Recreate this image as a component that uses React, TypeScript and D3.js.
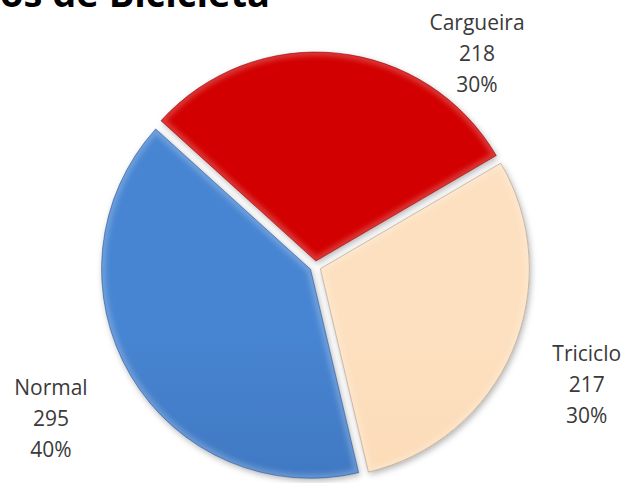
import React from "react";
import * as d3 from "d3";

const categories = ["Normal", "Cargueira", "Triciclo"];
const values = [295, 218, 217];
const percentLabels = ["40%", "30%", "30%"];
const title = "Tipos de Bicicleta";

const W = 628;
const H = 483;
const CX = 315.3;
const CY = 266.5;
const R = 209;
const EXPLODE = 5.5;
const START_DEG = 166.7;

const topColors = ["#4785d2", "#d20000", "#fde0c0"];
const bottomColors = ["#3563a8", "#c60000", "#fad4ab"];
const edgeColors = ["#244f8c", "#8e0000", "#a89078"];

// label placement: angle (deg, clockwise from top) & distance of the middle text line from centre
const labelLayout = [
  { angle: 238.9, dist: 308.7 },
  { angle: 38.2, dist: 261.5 },
  { angle: 114.8, dist: 299 },
];

export default function App() {
  const data = categories.map((c, i) => ({ name: c, value: values[i], pct: percentLabels[i], i }));
  const start = (START_DEG * Math.PI) / 180;
  const pie = d3
    .pie<any>()
    .sort(null)
    .value((d: any) => d.value)
    .startAngle(start)
    .endAngle(start + 2 * Math.PI);
  const arcs = pie(data);
  const arc = d3.arc<any>().innerRadius(0).outerRadius(R);

  return (
    <div style={{ position: "absolute", left: 0, top: 0 }}>
      <svg width={W} height={H} style={{ display: "block", overflow: "hidden" }}>
        <defs>
          <filter id="shadow" x="-20%" y="-20%" width="140%" height="140%">
            <feDropShadow dx="1.5" dy="2.5" stdDeviation="3" floodColor="#000" floodOpacity="0.3" />
          </filter>
          <filter id="blur4">
            <feGaussianBlur stdDeviation="2.5" />
          </filter>
          {data.map((d) => (
            <linearGradient
              key={d.name}
              id={`g${d.i}`}
              gradientUnits="userSpaceOnUse"
              x1={0}
              y1={CY - R}
              x2={0}
              y2={CY + R}
            >
              <stop offset="0%" stopColor={topColors[d.i]} />
              <stop offset="100%" stopColor={bottomColors[d.i]} />
            </linearGradient>
          ))}
          {arcs.map((a: any) => (
            <clipPath key={a.data.name} id={`c${a.data.i}`}>
              <path d={arc(a) as string} />
            </clipPath>
          ))}
        </defs>
        <rect width={W} height={H} fill="#fff" />
        <text
          x={270}
          y={7}
          textAnchor="end"
          fontFamily="'Open Sans', sans-serif"
          fontWeight="bold"
          fontSize={38}
          fill="#000"
        >
          {title}
        </text>
        <g transform={`translate(${CX},${CY})`}>
          {arcs.map((a: any) => {
            const mid = (a.startAngle + a.endAngle) / 2;
            const dx = EXPLODE * Math.sin(mid);
            const dy = -EXPLODE * Math.cos(mid);
            const p = arc(a) as string;
            return (
              <g key={a.data.name} transform={`translate(${dx},${dy})`}>
                <path d={p} fill={`url(#g${a.data.i})`} filter="url(#shadow)" />
                <g clipPath={`url(#c${a.data.i})`}>
                  <path
                    d={p}
                    fill="none"
                    stroke="#fff"
                    strokeOpacity={0.22}
                    strokeWidth={8}
                    filter="url(#blur4)"
                    strokeLinejoin="round"
                  />
                </g>
                <path d={p} fill="none" stroke={edgeColors[a.data.i]} strokeOpacity={0.55} strokeWidth={1} />
              </g>
            );
          })}
        </g>
        {data.map((d, i) => {
          const L = labelLayout[i];
          const ang = (L.angle * Math.PI) / 180;
          const x = CX + L.dist * Math.sin(ang);
          const y = CY - L.dist * Math.cos(ang);
          return (
            <text
              key={d.name}
              x={x}
              y={y}
              textAnchor="middle"
              fontFamily="'Open Sans', sans-serif"
              fontSize={21}
              fill="#3a3a3a"
            >
              <tspan x={x} dy={-31}>{d.name}</tspan>
              <tspan x={x} dy={31}>{d.value}</tspan>
              <tspan x={x} dy={31}>{d.pct}</tspan>
            </text>
          );
        })}
      </svg>
    </div>
  );
}
